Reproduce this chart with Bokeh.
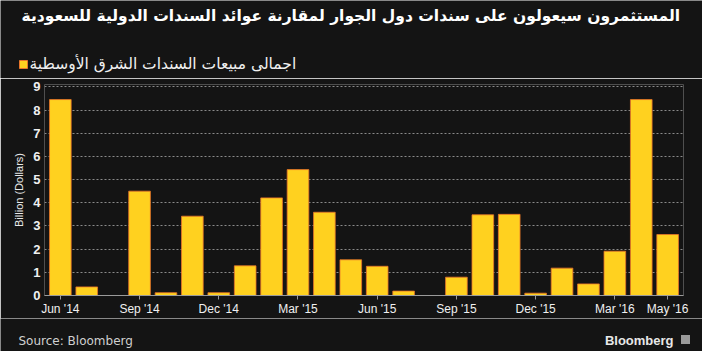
from bokeh.plotting import figure
from bokeh.models import Label, FixedTicker, Range1d, ColumnDataSource
from bokeh.layouts import column
from bokeh.embed import file_html
from bokeh.resources import INLINE

months = ["Jun '14", "Jul '14", "Aug '14", "Sep '14", "Oct '14", "Nov '14", "Dec '14",
          "Jan '15", "Feb '15", "Mar '15", "Apr '15", "May '15", "Jun '15", "Jul '15",
          "Aug '15", "Sep '15", "Oct '15", "Nov '15", "Dec '15", "Jan '16", "Feb '16",
          "Mar '16", "Apr '16", "May '16"]
sales = [8.45, 0.37, 0.0, 4.5, 0.12, 3.42, 0.12, 1.28, 4.21, 5.43, 3.59, 1.54, 1.26, 0.19,
         0.0, 0.79, 3.48, 3.5, 0.1, 1.18, 0.5, 1.91, 8.45, 2.63]
tick_labels = ["Jun '14", "Sep '14", "Dec '14", "Mar '15", "Jun '15", "Sep '15", "Dec '15", "Mar '16", "May '16"]

title_text = "المستثمرون سيعولون  على سندات دول الجوار لمقارنة عوائد السندات الدولية للسعودية"
legend_text = "اجمالى مبيعات السندات الشرق الأوسطية"
source_text = "Source: Bloomberg"
brand_text = "Bloomberg"

BG = "#141414"
BAR = "#ffd11f"
EDGE = "#e8742a"

def blank(h):
    f = figure(width=702, height=h, output_backend="svg", toolbar_location=None,
               x_range=Range1d(0, 702), y_range=Range1d(h, 0),
               min_border=0, min_border_left=0, min_border_right=0,
               min_border_top=0, min_border_bottom=0, frame_align=False,
               background_fill_color=BG, border_fill_color=BG, outline_line_color=None)
    f.axis.visible = False
    f.grid.visible = False
    return f

def lab(f, x, y, t, size, color, style="normal", align="left", font="DejaVu Sans"):
    f.add_layout(Label(x=x, y=y, text=t, text_font_size=size, text_color=color,
                       text_font_style=style, text_align=align, text_baseline="middle",
                       text_font=font))

# header
head = blank(78)
lab(head, 685, 15, title_text, "15.5px", "#ffffff", "bold", "right")
head.rect(x=[23], y=[64], width=8, height=8, fill_color=BAR, line_color=EDGE, line_width=1)
lab(head, 29, 63, legend_text, "15.5px", "#f0f0f0", "normal", "left")

# main chart
idx = list(range(len(months)))
src = ColumnDataSource(dict(x=idx, y=sales, m=months))

p = figure(width=702, height=240, output_backend="svg", toolbar_location=None,
           x_range=Range1d(-0.6, 23.6), y_range=Range1d(0, 9.1),
           min_border_left=44, min_border_right=19, min_border_top=6, min_border_bottom=23,
           frame_align=False,
           background_fill_color=BG, border_fill_color=BG, outline_line_color=None)

p.vbar(x="x", top="y", width=0.82, source=src, fill_color=BAR,
       line_color=EDGE, line_width=0.8)

p.xgrid.grid_line_color = None
p.ygrid.grid_line_color = "#8a8a8a"
p.ygrid.grid_line_dash = "2 2"
p.ygrid.grid_line_width = 1

p.yaxis.ticker = FixedTicker(ticks=list(range(10)))
p.yaxis.axis_line_color = None
p.yaxis.major_tick_line_color = None
p.yaxis.major_tick_out = 0
p.yaxis.major_tick_in = 0
p.yaxis.minor_tick_line_color = None
p.yaxis.minor_tick_out = 0
p.yaxis.major_label_text_color = "#f0f0f0"
p.yaxis.major_label_text_font = "Liberation Sans"
p.yaxis.major_label_text_font_style = "bold"
p.yaxis.major_label_text_font_size = "13px"
p.yaxis.major_label_standoff = 4
p.yaxis.axis_label = "Billion (Dollars)"
p.yaxis.axis_label_text_color = "#e8e8e8"
p.yaxis.axis_label_text_font = "Liberation Sans"
p.yaxis.axis_label_text_font_style = "normal"
p.yaxis.axis_label_text_font_size = "11px"
p.yaxis.axis_label_standoff = 5

tick_pos = [months.index(t) for t in tick_labels]
p.xaxis.ticker = FixedTicker(ticks=tick_pos)
p.xaxis.major_label_overrides = {i: months[i] for i in tick_pos}
p.xaxis.axis_line_color = "#9a9a9a"
p.xaxis.major_tick_line_color = "#9a9a9a"
p.xaxis.major_tick_in = 0
p.xaxis.major_tick_out = 4
p.xaxis.minor_tick_line_color = None
p.xaxis.major_label_text_color = "#f0f0f0"
p.xaxis.major_label_text_font = "Liberation Sans"
p.xaxis.major_label_text_font_size = "12px"
p.xaxis.major_label_standoff = 2

# footer
foot = blank(33)
lab(foot, 18, 22, source_text, "12px", "#d0d0d0", "normal", "left", "DejaVu Sans")
lab(foot, 673, 22, brand_text, "13px", "#e8e8e8", "bold", "right", "Liberation Sans")
foot.rect(x=[685], y=[21], width=9, height=9, fill_color="#9a9a9a", line_color=None)

layout = column(head, p, foot, spacing=0)
out = file_html(layout, INLINE)
open("out.html", "w").write(out)
